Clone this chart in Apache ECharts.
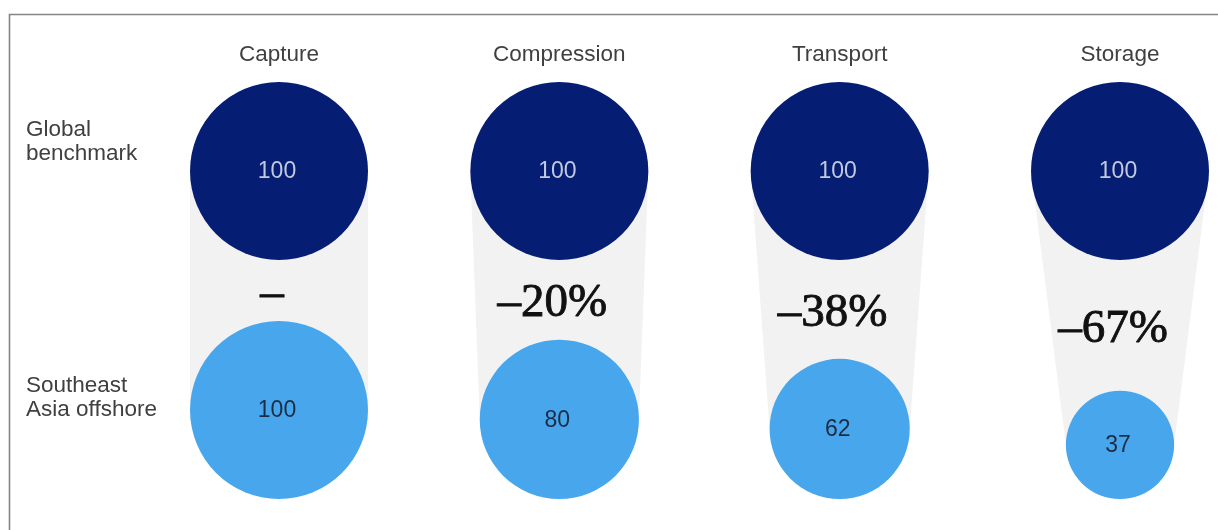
<!DOCTYPE html>
<html>
<head>
<meta charset="utf-8">
<style>
  html, body { margin: 0; padding: 0; background: #ffffff; }
  #chart { width: 1218px; height: 530px; }
</style>
<script src="https://cdn.jsdelivr.net/npm/echarts@6/dist/echarts.min.js"></script>
</head>
<body>
<div id="chart"></div>
<script>
// Cost index per stage of the CCS chain (global benchmark = 100)
const categories = ['Capture', 'Compression', 'Transport', 'Storage'];
const globalValues = [100, 100, 100, 100];
const offshoreValues = [100, 80, 62, 37];
const changeLabels = ['\u2013', '\u201320%', '\u201338%', '\u201367%'];
const rowLabels = ['Global\nbenchmark', 'Southeast\nAsia offshore'];

// Layout constants (pixels)
const R_MAX = 89;       // radius of a circle with index 100
const TOP_CY = 171;     // centre line of the benchmark circles
const BASE_Y = 499;     // bottom line shared by the offshore circles

const NAVY = '#051d73';
const BLUE = '#48a7ec';
const FUNNEL = '#f2f2f2';
const SANS = '"Liberation Sans", Arial, sans-serif';
const SERIF = '"Liberation Serif", "Times New Roman", serif';

const chart = echarts.init(document.getElementById('chart'));

chart.setOption({
  animation: false,
  grid: { left: 279, right: 98, top: 72, bottom: 30 },
  xAxis: {
    type: 'category',
    data: categories,
    position: 'top',
    boundaryGap: false,
    axisLine: { show: false },
    axisTick: { show: false },
    splitLine: { show: false },
    axisLabel: { margin: 6, fontSize: 22.5, fontFamily: SANS, color: '#404040' }
  },
  yAxis: { type: 'value', min: 0, max: 1, show: false },
  graphic: [
    {
      type: 'rect',
      shape: { x: 9.5, y: 14.5, width: 1240, height: 560 },
      style: { fill: 'none', stroke: '#858585', lineWidth: 1.6 },
      silent: true
    },
    {
      type: 'text', left: 26, top: 118,
      style: { text: rowLabels[0], fontSize: 22.5, lineHeight: 24, fontFamily: SANS, fill: '#404040' }
    },
    {
      type: 'text', left: 26, top: 374,
      style: { text: rowLabels[1], fontSize: 22.5, lineHeight: 24, fontFamily: SANS, fill: '#404040' }
    }
  ],
  series: [{
    type: 'custom',
    coordinateSystem: 'cartesian2d',
    data: categories.map((c, i) => [i, globalValues[i], offshoreValues[i]]),
    renderItem: function (params, api) {
      const idx = api.value(0);
      const g = api.value(1);
      const o = api.value(2);
      const cx = api.coord([idx, 0])[0];
      const rTop = R_MAX * Math.sqrt(g / 100);
      const rBot = R_MAX * Math.sqrt(o / 100);
      const cyTop = TOP_CY;
      const cyBot = BASE_Y - rBot;
      const labelY = ((cyTop + rTop) + (cyBot - rBot)) / 2 + 4;
      return {
        type: 'group',
        children: [
          {
            type: 'polygon',
            shape: { points: [[cx - rTop, cyTop], [cx + rTop, cyTop], [cx + rBot, cyBot], [cx - rBot, cyBot]] },
            style: { fill: FUNNEL }
          },
          { type: 'circle', shape: { cx: cx, cy: cyTop, r: rTop }, style: { fill: NAVY } },
          { type: 'circle', shape: { cx: cx, cy: cyBot, r: rBot }, style: { fill: BLUE } },
          {
            type: 'text',
            style: { text: String(g), x: cx - 2, y: cyTop + 1, align: 'center', verticalAlign: 'middle',
                     fontSize: 23, fontFamily: SANS, fill: '#c3c9df' }
          },
          {
            type: 'text',
            style: { text: String(o), x: cx - 2, y: cyBot + 1, align: 'center', verticalAlign: 'middle',
                     fontSize: 23, fontFamily: SANS, fill: '#1b2d46' }
          },
          {
            type: 'text',
            style: { text: changeLabels[params.dataIndex], x: cx - 7, y: labelY, align: 'center', verticalAlign: 'middle',
                     fontSize: 47, fontFamily: SERIF, fill: '#111111', stroke: '#111111', lineWidth: 0.9 }
          }
        ]
      };
    }
  }]
});
</script>
</body>
</html>
